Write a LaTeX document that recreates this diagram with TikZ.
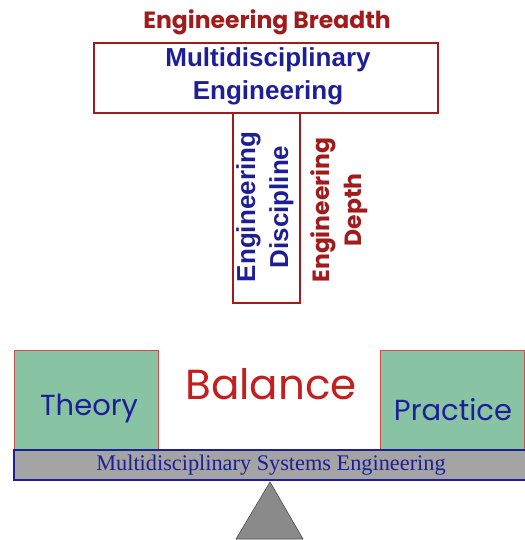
\documentclass[tikz,border=0pt]{standalone}
\usepackage{fontspec}
\setmainfont{Liberation Serif}
\newfontfamily\arialfont{Liberation Sans}
\newfontfamily\comicfont{Poppins}
\definecolor{dred}{HTML}{A01C1C}
\definecolor{bred}{HTML}{C41E1E}
\definecolor{dblue}{HTML}{1E1E96}
\definecolor{boxgreen}{HTML}{88C4A4}
\definecolor{beamgray}{HTML}{A4A4A4}
\definecolor{edgered}{HTML}{D24A4A}
\begin{document}
\begin{tikzpicture}[x=1pt,y=-1pt,
  frame/.style={draw=dred,line width=1.8pt,fill=white,inner sep=0pt},
  bluetxt/.style={text=dblue,font=\arialfont\bfseries\fontsize{26}{33}\selectfont,align=center,inner sep=0pt},
  redtxt/.style={text=dred,font=\comicfont\bfseries\fontsize{23.5}{32}\selectfont,align=center,inner sep=0pt},
  greenbox/.style={draw=edgered,line width=0.8pt,fill=boxgreen,inner sep=0pt,minimum width=144pt,minimum height=100pt},
  greentxt/.style={text=dblue,font=\comicfont\fontsize{29}{32}\selectfont,inner sep=0pt}]
\useasboundingbox (0,0) rectangle (524,540);
% top T
\node[frame,minimum width=67pt,minimum height=190pt] (disc) at (266.5,208) {};
\node[frame,minimum width=344pt,minimum height=70pt] (multi) at (266,78) {};
\node[bluetxt] (multitxt) at (268,76) {Multidisciplinary\\Engineering};
\node[bluetxt,rotate=90] (disctxt) at (265,207) {Engineering\\Discipline};
\node[redtxt] (breadth) at (267,22) {Engineering Breadth};
\node[redtxt,rotate=90] (depth) at (339,210) {Engineering\\Depth};
% balance
\node[greenbox] (theory) at (86,400) {};
\node[greenbox] (practice) at (452,400) {};
\node[greentxt] (theorytxt) at (89,409) {Theory};
\node[greentxt] (practicetxt) at (453,410) {Practice};
\node[text=bred,font=\comicfont\fontsize{42}{46}\selectfont,inner sep=0pt] (balance) at (271,384) {Balance};
\node[draw=dblue,line width=1.2pt,fill=beamgray,minimum width=512pt,minimum height=30pt,inner sep=0pt,
  text=dblue,font=\fontsize{22.3}{24}\selectfont] (beam) at (270,465) {\hspace*{2pt}Multidisciplinary Systems Engineering};
\coordinate (apex) at (270,482);
\coordinate (bl) at (236,539);
\coordinate (br) at (303,539);
\draw[fill=gray!85!black!80,draw=black!70,line width=0.6pt] (apex) -- (bl) -- (br) -- cycle;
\end{tikzpicture}
\end{document}
